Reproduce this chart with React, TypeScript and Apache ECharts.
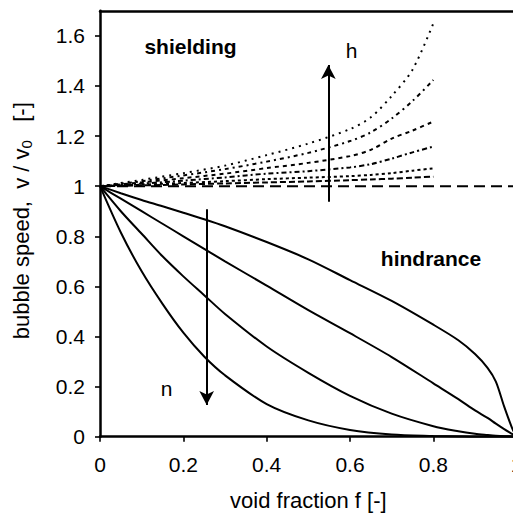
import React, { useEffect, useRef } from "react";
import * as echarts from "echarts";

// ---- data ----
const hindranceX = [0, 0.05, 0.1, 0.15, 0.2, 0.25, 0.3, 0.4, 0.5, 0.6, 0.7, 0.8, 0.86, 0.9, 0.93, 0.95, 0.97, 0.99, 1.0];
const hindranceA = [1, 0.972, 0.945, 0.92, 0.894, 0.868, 0.84, 0.777, 0.708, 0.625, 0.542, 0.447, 0.385, 0.33, 0.275, 0.22, 0.12, 0.03, 0];
const hindranceB = [1, 0.95, 0.9, 0.85, 0.8, 0.75, 0.7, 0.603, 0.505, 0.413, 0.318, 0.213, 0.15, 0.105, 0.075, 0.052, 0.03, 0.01, 0];
const hindranceC = [1, 0.9, 0.81, 0.72, 0.64, 0.565, 0.49, 0.36, 0.255, 0.163, 0.092, 0.042, 0.022, 0.012, 0.007, 0.004, 0.002, 0.001, 0];
const hindranceD = [1, 0.815, 0.66, 0.53, 0.415, 0.32, 0.245, 0.13, 0.065, 0.027, 0.009, 0.003, 0.001, 0, 0, 0, 0, 0, 0];

const shieldingX = [0, 0.1, 0.2, 0.3, 0.4, 0.5, 0.6, 0.65, 0.7, 0.75, 0.8];
const shielding1 = [1, 1.025, 1.052, 1.082, 1.124, 1.17, 1.228, 1.275, 1.36, 1.465, 1.65];
const shielding2 = [1, 1.02, 1.043, 1.068, 1.098, 1.133, 1.18, 1.215, 1.27, 1.34, 1.424];
const shielding3 = [1, 1.015, 1.032, 1.05, 1.072, 1.093, 1.12, 1.145, 1.19, 1.222, 1.258];
const shielding4 = [1, 1.01, 1.022, 1.035, 1.05, 1.06, 1.075, 1.088, 1.11, 1.135, 1.158];
const shielding5 = [1, 1.006, 1.013, 1.02, 1.028, 1.034, 1.04, 1.045, 1.052, 1.062, 1.071];
const shielding6 = [1, 1.003, 1.007, 1.011, 1.015, 1.019, 1.024, 1.027, 1.03, 1.034, 1.038];

const baselineX = [0, 1];
const baselineY = [1, 1];

const yTickValues = [0, 0.2, 0.4, 0.6, 0.8, 1, 1.2, 1.4, 1.6];

// arrows: [x, yStart, yEnd(tip)]
const arrowH = [0.548, 0.938, 1.484];
const arrowN = [0.256, 0.908, 0.127];

const FONT = '"Liberation Sans", Arial, Helvetica, sans-serif';

function pairs(xs: number[], ys: number[]) {
  return xs.map((x, i) => [x, ys[i]]);
}

export default function App() {
  const ref = useRef<HTMLDivElement>(null);
  useEffect(() => {
    if (!ref.current) return;
    const chart = echarts.init(ref.current, undefined, { renderer: "svg" });

    const solid = (data: number[]) => ({
      type: "line",
      data: pairs(hindranceX, data),
      showSymbol: false,
      symbol: "none",
      smooth: 0.3,
      lineStyle: { color: "#000", width: 2, type: "solid" },
      silent: true,
    });
    const dashed = (data: number[], dash: number[]) => ({
      type: "line",
      data: pairs(shieldingX, data),
      showSymbol: false,
      symbol: "none",
      smooth: 0.3,
      lineStyle: { color: "#000", width: 2, type: dash },
      silent: true,
    });

    const option: any = {
      animation: false,
      backgroundColor: "#fff",
      grid: { left: 100, top: 10.8, width: 416.7, height: 425.9, containLabel: false, outerBoundsMode: "none" },
      xAxis: [
        {
          type: "value",
          min: 0,
          max: 1,
          interval: 0.2,
          position: "bottom",
          name: "void fraction f [-]",
          nameLocation: "middle",
          nameGap: 53,
          nameTextStyle: { fontFamily: FONT, fontSize: 22, color: "#000" },
          axisLine: { show: true, lineStyle: { color: "#000", width: 2.5 } },
          axisTick: { show: true, inside: false, length: 5, lineStyle: { color: "#000", width: 1.6 } },
          axisLabel: {
            margin: 17,
            fontFamily: FONT,
            fontSize: 21,
            color: "#000",
            formatter: (v: number) => String(+v.toFixed(1)),
          },
          splitLine: { show: false },
        },
        {
          type: "value",
          min: 0,
          max: 1,
          position: "top",
          axisLine: { show: true, onZero: false, lineStyle: { color: "#000", width: 2.5 } },
          axisTick: { show: false },
          axisLabel: { show: false },
          splitLine: { show: false },
        },
      ],
      yAxis: {
        type: "value",
        min: 0,
        max: 1.7,
        interval: 0.2,
        name: "{a|bubble speed,  v / v}{b|0}{a|   [-]}",
        nameLocation: "middle",
        nameGap: 66,
        nameTextStyle: {
          fontFamily: FONT,
          fontSize: 22,
          color: "#000",
          padding: [0, 0, 0, 6],
          rich: {
            a: { fontFamily: FONT, fontSize: 22, lineHeight: 26, color: "#000" },
            b: { fontFamily: FONT, fontSize: 15, lineHeight: 13, color: "#000", verticalAlign: "bottom" },
          },
        },
        axisLine: { show: true, onZero: false, lineStyle: { color: "#000", width: 2.5 } },
        axisTick: { show: true, inside: false, length: 5, customValues: yTickValues, lineStyle: { color: "#000", width: 1.6 } },
        axisLabel: {
          margin: 15,
          fontFamily: FONT,
          fontSize: 21,
          color: "#000",
          customValues: yTickValues,
          formatter: (v: number) => String(+v.toFixed(1)),
        },
        splitLine: { show: false },
      },
      series: [
        solid(hindranceA),
        solid(hindranceB),
        solid(hindranceC),
        solid(hindranceD),
        dashed(shielding1, [2, 5]),
        dashed(shielding2, [4, 4, 2, 4]),
        dashed(shielding3, [4, 4]),
        dashed(shielding4, [5, 3, 2, 3]),
        dashed(shielding5, [3, 3]),
        dashed(shielding6, [6, 3]),
        {
          type: "line",
          data: pairs(baselineX, baselineY),
          showSymbol: false,
          symbol: "none",
          lineStyle: { color: "#000", width: 2, type: [11, 6] },
          silent: true,
          markLine: {
            silent: true,
            symbol: ["none", "arrow"],
            symbolSize: [11, 14],
            label: { show: false },
            lineStyle: { color: "#000", width: 2, type: "solid" },
            emphasis: { disabled: true },
            data: [
              [{ coord: [arrowH[0], arrowH[1]] }, { coord: [arrowH[0], arrowH[2]] }],
              [{ coord: [arrowN[0], arrowN[1]] }, { coord: [arrowN[0], arrowN[2]] }],
            ],
          },
        },
      ],
      graphic: [
        {
          type: "text",
          x: 190.5,
          y: 46,
          style: { text: "shielding", font: `bold 21px ${FONT}`, fill: "#000", align: "center", verticalAlign: "middle" },
        },
        {
          type: "text",
          x: 431,
          y: 258,
          style: { text: "hindrance", font: `bold 21px ${FONT}`, fill: "#000", align: "center", verticalAlign: "middle" },
        },
        {
          type: "text",
          x: 351.5,
          y: 50,
          style: { text: "h", font: `21px ${FONT}`, fill: "#000", align: "center", verticalAlign: "middle" },
        },
        {
          type: "text",
          x: 166.5,
          y: 388.5,
          style: { text: "n", font: `21px ${FONT}`, fill: "#000", align: "center", verticalAlign: "middle" },
        },
      ],
    };
    chart.setOption(option);
    return () => chart.dispose();
  }, []);
  return (
    <div
      ref={ref}
      style={{ position: "absolute", left: 0, top: 0, width: 513, height: 513, background: "#fff" }}
    />
  );
}
